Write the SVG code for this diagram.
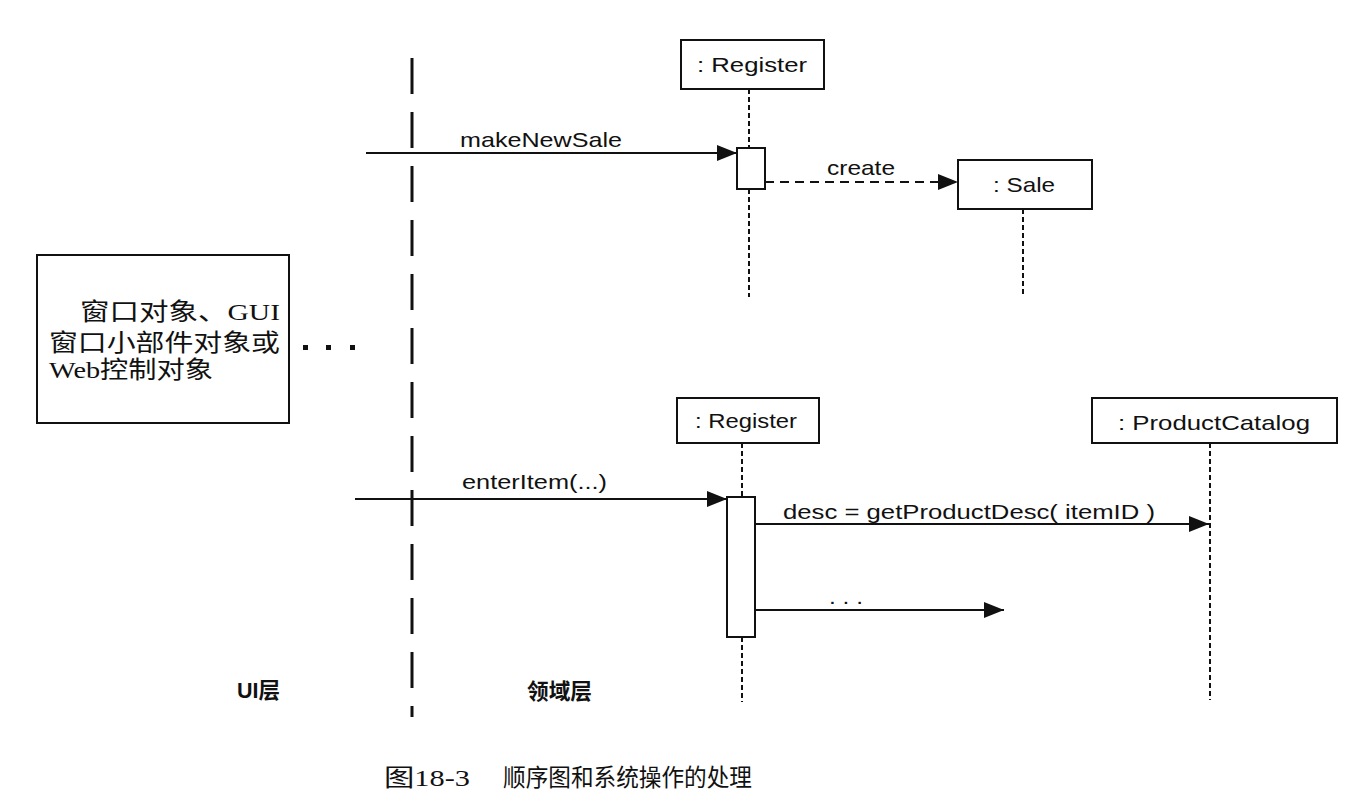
<svg xmlns="http://www.w3.org/2000/svg" width="1360" height="791" viewBox="0 0 1360 791">
<defs>
<style>
.box{fill:#fff;stroke:#111;stroke-width:2}
.lbl{font-family:"Liberation Sans",Arial,sans-serif;font-size:21px;fill:#111}
.life{stroke:#111;stroke-width:2;stroke-dasharray:5 3;fill:none}
.msg{stroke:#111;stroke-width:2;fill:none}
.cjk{font-family:"Liberation Serif","Noto Sans CJK SC",serif;font-size:24px;fill:#111}
.layer{font-family:"Liberation Sans","Noto Sans CJK SC",sans-serif;font-size:22px;font-weight:bold;fill:#111}
</style>
<marker id="arr" markerUnits="userSpaceOnUse" markerWidth="22" markerHeight="18" refX="20" refY="8" orient="auto">
<path d="M0,0 L20,8 L0,16 z" fill="#111"/>
</marker>
</defs>
<rect width="1360" height="791" fill="#fff"/>

<g id="layer-divider">
<line x1="412" y1="58" x2="412" y2="717" stroke="#111" stroke-width="3" stroke-dasharray="36 18"/>
</g>

<g id="ui-box">
<rect class="box" x="37" y="255" width="252" height="168"/>
<text class="cjk" x="80" y="320" textLength="200" lengthAdjust="spacingAndGlyphs">窗口对象、GUI</text>
<text class="cjk" x="49" y="351" textLength="231" lengthAdjust="spacingAndGlyphs">窗口小部件对象或</text>
<text class="cjk" x="49" y="378" textLength="164" lengthAdjust="spacingAndGlyphs">Web控制对象</text>
</g>

<g id="ellipsis-dots" fill="#111">
<rect x="303" y="345" width="5" height="5"/>
<rect x="326" y="345" width="5" height="5"/>
<rect x="350" y="345" width="5" height="5"/>
</g>

<g id="register1">
<rect class="box" x="681" y="40" width="143" height="49"/>
<text class="lbl" x="697" y="72" textLength="110" lengthAdjust="spacingAndGlyphs">: Register</text>
<line class="life" x1="749" y1="89" x2="749" y2="148"/>
<line class="life" x1="749" y1="189" x2="749" y2="297"/>
<rect class="box" x="737" y="148" width="28" height="41"/>
</g>

<g id="sale">
<rect class="box" x="958" y="160" width="134" height="49"/>
<text class="lbl" x="993" y="192" textLength="62" lengthAdjust="spacingAndGlyphs">: Sale</text>
<line class="life" x1="1023" y1="209" x2="1023" y2="297"/>
</g>

<g id="register2">
<rect class="box" x="677" y="398" width="142" height="45"/>
<text class="lbl" x="695" y="428" textLength="102" lengthAdjust="spacingAndGlyphs">: Register</text>
<line class="life" x1="742" y1="443" x2="742" y2="497"/>
<line class="life" x1="742" y1="637" x2="742" y2="702"/>
<rect class="box" x="727" y="497" width="28" height="140"/>
</g>

<g id="productcatalog">
<rect class="box" x="1092" y="398" width="245" height="45"/>
<text class="lbl" x="1118" y="430" textLength="192" lengthAdjust="spacingAndGlyphs">: ProductCatalog</text>
<line class="life" x1="1210" y1="443" x2="1210" y2="700"/>
</g>

<g id="connectors">
<line class="msg" x1="366" y1="153" x2="737" y2="153" marker-end="url(#arr)"/>
<text class="lbl" x="460" y="147" textLength="162" lengthAdjust="spacingAndGlyphs">makeNewSale</text>
<line class="msg" x1="765" y1="182" x2="958" y2="182" stroke-dasharray="9 6" marker-end="url(#arr)"/>
<text class="lbl" x="827" y="175" textLength="68" lengthAdjust="spacingAndGlyphs">create</text>
<line class="msg" x1="355" y1="499" x2="727" y2="499" marker-end="url(#arr)"/>
<text class="lbl" x="462" y="489" textLength="145" lengthAdjust="spacingAndGlyphs">enterItem(...)</text>
<line class="msg" x1="755" y1="524" x2="1209" y2="524" marker-end="url(#arr)"/>
<text class="lbl" x="783" y="519" textLength="372" lengthAdjust="spacingAndGlyphs">desc = getProductDesc( itemID )</text>
<line class="msg" x1="755" y1="610" x2="1004" y2="610" marker-end="url(#arr)"/>
<text class="lbl" x="829" y="604" font-size="14" textLength="34" lengthAdjust="spacingAndGlyphs">. . .</text>
</g>

<g id="layer-labels">
<text class="layer" x="237" y="698" textLength="43" lengthAdjust="spacingAndGlyphs">UI层</text>
<text class="layer" x="527" y="699" textLength="65" lengthAdjust="spacingAndGlyphs">领域层</text>
</g>

<g id="caption">
<text class="cjk" x="384" y="786" font-size="25" textLength="86" lengthAdjust="spacingAndGlyphs">图18-3</text>
<text class="cjk" x="503" y="786" font-size="25" textLength="249" lengthAdjust="spacingAndGlyphs">顺序图和系统操作的处理</text>
</g>
</svg>
